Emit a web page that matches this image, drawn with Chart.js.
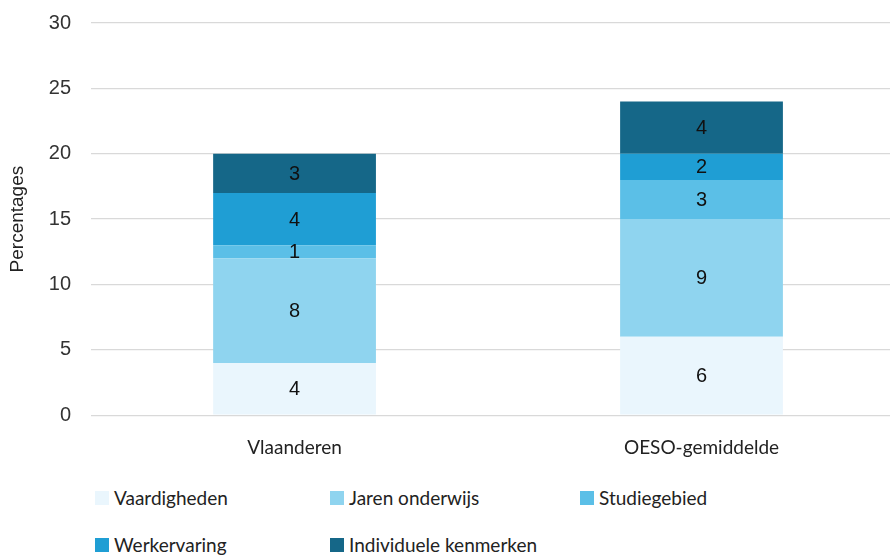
<!DOCTYPE html>
<html>
<head>
<meta charset="utf-8">
<script src="https://cdn.jsdelivr.net/npm/chart.js@4"></script>
<style>
  html, body { margin: 0; padding: 0; background: #fff; overflow: hidden; }
  body { width: 890px; height: 555px; position: relative; }
  #wrap { position: absolute; left: 0; top: -9px; width: 905px; height: 481px; }
  #legend { position: absolute; left: 95px; top: 486px; width: 800px;
            font-family: Lato, "Noto Sans", sans-serif; font-size: 19px; color: #222; }
  .item { position: absolute; display: flex; align-items: center; white-space: nowrap; }
  .box { width: 14px; height: 14px; margin-right: 5px; }
</style>
</head>
<body>
<div id="wrap"><canvas id="myChart"></canvas></div>
<div id="legend"></div>
<script>
// data
var categories = ["Vlaanderen", "OESO-gemiddelde"]
var seriesNames = ["Vaardigheden", "Jaren onderwijs", "Studiegebied", "Werkervaring", "Individuele kenmerken"]
var vaardigheden = [4, 6]
var jarenOnderwijs = [8, 9]
var studiegebied = [1, 3]
var werkervaring = [4, 2]
var individueleKenmerken = [3, 4]
var yTicks = [0, 5, 10, 15, 20, 25, 30]

var colors = ['#eaf6fd', '#8fd4ef', '#5bbfe7', '#1f9ed4', '#156788']
var seriesValues = [vaardigheden, jarenOnderwijs, studiegebied, werkervaring, individueleKenmerken]

// draws the number in the middle of each segment
var barLabels = {
    id: 'barLabels',
    afterDatasetsDraw(chart) {
        var ctx = chart.ctx
        ctx.save()
        ctx.font = '20px "Liberation Sans", Arial, sans-serif'
        ctx.fillStyle = '#111'
        ctx.textAlign = 'center'
        ctx.textBaseline = 'middle'
        chart.data.datasets.forEach((ds, i) => {
            chart.getDatasetMeta(i).data.forEach((bar, j) => {
                var mid = (bar.y + bar.base) / 2
                ctx.fillText(ds.data[j], bar.x, mid + 1)
            })
        })
        ctx.restore()
    }
}

var datasets = seriesNames.map((name, i) => {
    return {
        label: name,
        data: seriesValues[i],
        backgroundColor: colors[i],
        borderWidth: 0,
        barPercentage: 0.4,
        categoryPercentage: 1
    }
})

var myChart = document.getElementById("myChart").getContext("2d")
var chart = new Chart(myChart, {
    type: 'bar',
    data: { labels: categories, datasets: datasets },
    plugins: [barLabels],
    options: {
        responsive: true,
        maintainAspectRatio: false,
        animation: false,
        layout: { padding: { top: 3, left: 6, right: 0, bottom: 0 } },
        plugins: { legend: { display: false }, tooltip: { enabled: false } },
        scales: {
            x: {
                stacked: true,
                grid: { display: false },
                border: { display: false },
                ticks: { color: '#222', padding: 13, font: { family: 'Lato, "Noto Sans", sans-serif', size: 19 } }
            },
            y: {
                stacked: true,
                min: 0, max: 30,
                afterBuildTicks: function (axis) { axis.ticks = yTicks.map(v => ({ value: v })) },
                grid: { color: '#d9d9d9', drawTicks: false, lineWidth: 1.3 },
                border: { display: false },
                ticks: { color: '#333', padding: 20, font: { family: '"Liberation Sans", Arial, sans-serif', size: 20 } },
                title: { display: true, text: 'Percentages', color: '#222', padding: 0,
                         font: { family: '"Liberation Sans", Arial, sans-serif', size: 19 } }
            }
        }
    }
})

// legend in a grid like the original
var legend = document.getElementById("legend")
var colX = [0, 235, 485]
seriesNames.forEach((name, i) => {
    var item = document.createElement("div")
    item.setAttribute("class", "item")
    item.style.left = colX[i % 3] + "px"
    item.style.top = (Math.floor(i / 3) * 47) + "px"
    var box = document.createElement("span")
    box.setAttribute("class", "box")
    box.style.background = colors[i]
    item.appendChild(box)
    var txt = document.createElement("span")
    txt.innerHTML = name
    item.appendChild(txt)
    legend.appendChild(item)
})
</script>
</body>
</html>
